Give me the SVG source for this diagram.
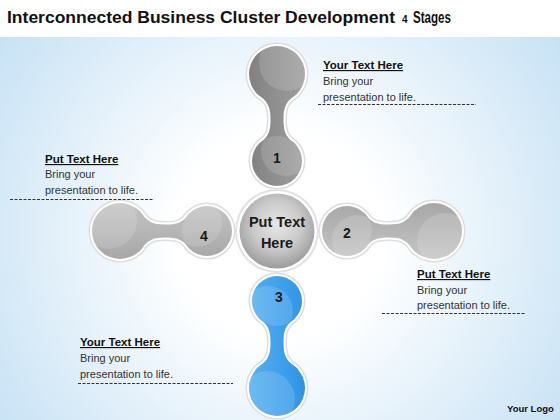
<svg xmlns="http://www.w3.org/2000/svg" xmlns:xlink="http://www.w3.org/1999/xlink" width="560" height="420" viewBox="0 0 560 420">
<defs>
<style>
.title{font-family:"Liberation Sans",Arial,sans-serif;font-weight:bold;fill:#111}
.hd{font-family:"Liberation Sans",Arial,sans-serif;font-weight:bold;font-size:11.5px;fill:#111;text-decoration:underline}
.bd{font-family:"Liberation Sans",Arial,sans-serif;font-size:11px;fill:#333}
.num{font-family:"Liberation Sans",Arial,sans-serif;font-weight:bold;font-size:14px;fill:#1a1a1a;text-anchor:middle}
.ctr{font-family:"Liberation Sans",Arial,sans-serif;font-weight:bold;font-size:14.5px;fill:#1a1a1a;text-anchor:middle}
.dash{stroke:#333;stroke-width:1;stroke-dasharray:3 1.5;fill:none}
.hl{fill:#fff;opacity:0.14}
.o1{fill:#fff;stroke:#dedede;stroke-width:7;stroke-linejoin:round}
.o2{fill:#fff;stroke:#fff;stroke-width:4;stroke-linejoin:round}
</style>
<radialGradient id="bg" cx="280" cy="235" r="340" gradientUnits="userSpaceOnUse">
<stop offset="0.3" stop-color="#ffffff"/><stop offset="1" stop-color="#c8e2f5"/>
</radialGradient>
<linearGradient id="gD" x1="0" y1="-30" x2="0" y2="30" gradientUnits="userSpaceOnUse">
<stop offset="0" stop-color="#808080"/><stop offset="1" stop-color="#a0a0a0"/>
</linearGradient>
<linearGradient id="gL" x1="0" y1="-30" x2="0" y2="30" gradientUnits="userSpaceOnUse">
<stop offset="0" stop-color="#a6a6a6"/><stop offset="1" stop-color="#c6c6c6"/>
</linearGradient>
<linearGradient id="gB" x1="0" y1="-30" x2="0" y2="30" gradientUnits="userSpaceOnUse">
<stop offset="0" stop-color="#2e92e5"/><stop offset="1" stop-color="#55b1f1"/>
</linearGradient>
<radialGradient id="gC" cx="0.5" cy="0.42" r="0.6">
<stop offset="0" stop-color="#e6e6e6"/><stop offset="0.55" stop-color="#c9c9c9"/><stop offset="1" stop-color="#989898"/>
</radialGradient>
<clipPath id="cN"><circle cx="70" cy="0" r="25"/></clipPath>
<clipPath id="cF"><circle cx="157" cy="0" r="28"/></clipPath>
<g id="db">
<circle cx="70" cy="0" r="25"/>
<circle cx="157" cy="0" r="28"/>
<path d="M 84,-18 L 88,-17 C 95,-8 100,-6.5 112,-6.5 C 124,-6.5 130,-9 137,-20 L 142,-22 L 142,22 L 137,20 C 130,9 124,6.5 112,6.5 C 100,6.5 95,8 88,17 L 84,18 Z"/>
</g>
<g id="hls">
<circle class="hl" cx="80" cy="9" r="25" clip-path="url(#cN)"/>
<circle class="hl" cx="168" cy="10" r="28" clip-path="url(#cF)"/>
</g>
</defs>

<rect x="0" y="0" width="560" height="420" fill="#ffffff"/>
<rect x="0" y="37" width="560" height="383" fill="url(#bg)"/>

<g id="title">
<text class="title" x="7" y="23" font-size="17" textLength="388" lengthAdjust="spacingAndGlyphs">Interconnected Business Cluster Development</text>
<text class="title" x="402" y="23" font-size="10">4</text>
<text class="title" x="413" y="23" font-size="17" textLength="38" lengthAdjust="spacingAndGlyphs">Stages</text>
</g>

<g id="center">
<circle cx="277" cy="231" r="42" fill="#e2e2e2"/>
<circle cx="277" cy="231" r="40" fill="#ffffff"/>
<circle cx="277" cy="231" r="37.5" fill="url(#gC)"/>
<text class="ctr" x="277" y="227">Put Text</text>
<text class="ctr" x="277" y="248">Here</text>
</g>

<g id="stage1" transform="translate(277,231) rotate(-90)">
<use xlink:href="#db" class="o1"/>
<use xlink:href="#db" class="o2"/>
<use xlink:href="#db" fill="url(#gD)"/>
<use xlink:href="#hls"/>
</g>
<g id="stage2" transform="translate(277,231)">
<use xlink:href="#db" class="o1"/>
<use xlink:href="#db" class="o2"/>
<use xlink:href="#db" fill="url(#gL)"/>
<use xlink:href="#hls"/>
</g>
<g id="stage3" transform="translate(277,231) rotate(90)">
<use xlink:href="#db" class="o1"/>
<use xlink:href="#db" class="o2"/>
<use xlink:href="#db" fill="url(#gB)"/>
<use xlink:href="#hls"/>
</g>
<g id="stage4" transform="translate(277,231) rotate(180)">
<use xlink:href="#db" class="o1"/>
<use xlink:href="#db" class="o2"/>
<use xlink:href="#db" fill="url(#gL)"/>
<use xlink:href="#hls"/>
</g>

<g id="numbers">
<text class="num" x="277" y="163">1</text>
<text class="num" x="347" y="238">2</text>
<text class="num" x="279" y="302">3</text>
<text class="num" x="204" y="241">4</text>
</g>

<g id="text1">
<text class="hd" x="323" y="69">Your Text Here</text>
<text class="bd" x="323" y="85">Bring your</text>
<text class="bd" x="323" y="101">presentation to life.</text>
<line class="dash" x1="318" y1="104.5" x2="476" y2="104.5"/>
</g>
<g id="text4">
<text class="hd" x="45" y="163">Put Text Here</text>
<text class="bd" x="45" y="178">Bring your</text>
<text class="bd" x="45" y="194">presentation to life.</text>
<line class="dash" x1="10" y1="199.5" x2="153" y2="199.5"/>
</g>
<g id="text2">
<text class="hd" x="417" y="278">Put Text Here</text>
<text class="bd" x="417" y="294">Bring your</text>
<text class="bd" x="417" y="309">presentation to life.</text>
<line class="dash" x1="382" y1="313.5" x2="526" y2="313.5"/>
</g>
<g id="text3">
<text class="hd" x="80" y="346">Your Text Here</text>
<text class="bd" x="80" y="362">Bring your</text>
<text class="bd" x="80" y="378">presentation to life.</text>
<line class="dash" x1="78" y1="383.5" x2="233" y2="383.5"/>
</g>

<text x="507" y="412" font-family="Liberation Sans, Arial, sans-serif" font-weight="bold" font-size="9.5" fill="#111">Your Logo</text>
</svg>
